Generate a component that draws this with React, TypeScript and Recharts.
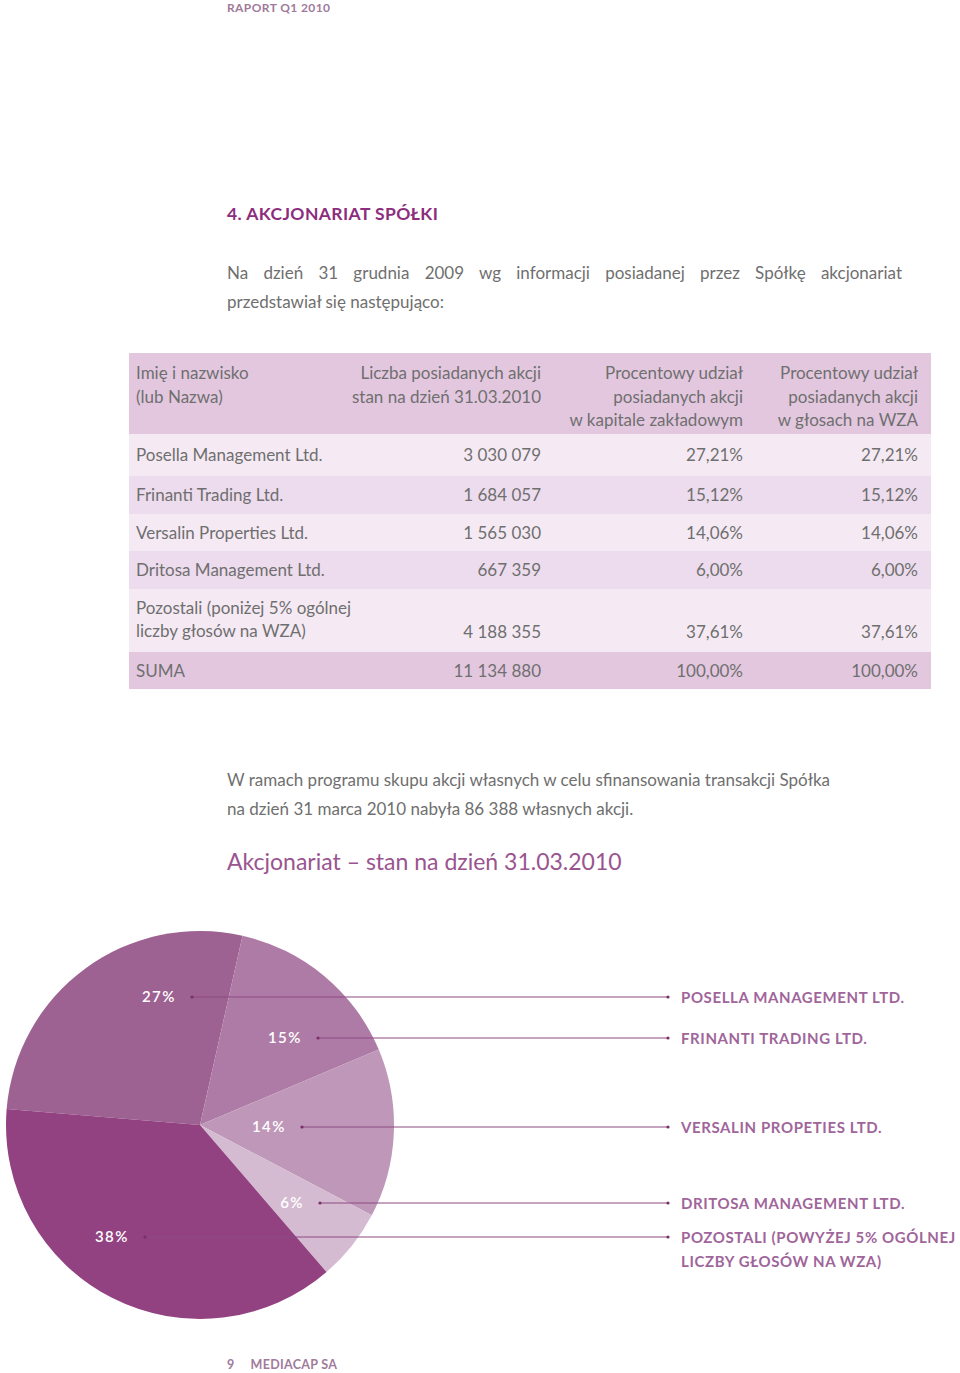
import { PieChart, Pie, Cell } from 'recharts';

// shareholders (table + pie)
const HOLDERS = ['Posella Management Ltd.', 'Frinanti Trading Ltd.', 'Versalin Properties Ltd.', 'Dritosa Management Ltd.', 'Pozostali (poniżej 5% ogólnej|liczby głosów na WZA)'];
const SHARES = [3030079, 1684057, 1565030, 667359, 4188355];
const SHARES_TXT = ['3 030 079', '1 684 057', '1 565 030', '667 359', '4 188 355'];
const CAPITAL_PCT = ['27,21%', '15,12%', '14,06%', '6,00%', '37,61%'];
const VOTES_PCT = ['27,21%', '15,12%', '14,06%', '6,00%', '37,61%'];
const TOTAL = ['SUMA', '11 134 880', '100,00%', '100,00%'];
const PIE_NAMES = ['POSELLA MANAGEMENT LTD.', 'FRINANTI TRADING LTD.', 'VERSALIN PROPETIES LTD.', 'DRITOSA MANAGEMENT LTD.', 'POZOSTALI (POWYŻEJ 5% OGÓLNEJ|LICZBY GŁOSÓW NA WZA)'];
const PIE_COLORS = ['#9d6192', '#ae7ba6', '#be97b9', '#d5bbd1', '#924281'];

// annotation placement relative to pie centre (dot position)
const LABEL_LAYOUT = [
  { dx: -8, dy: -128 },
  { dx: 118, dy: -87 },
  { dx: 102, dy: 2 },
  { dx: 120, dy: 78 },
  { dx: -55, dy: 112 },
];

const CX = 200;
const CY = 225;
const LINE_END = 668;

const GRAY = '#6f6f6f';
const FONT = 'Lato, "Noto Sans", sans-serif';

const pieData = HOLDERS.map((h, i) => ({ name: PIE_NAMES[i], value: SHARES[i] }));

const rowHeights = [42, 38, 37, 38, 63];
const rowBg = ['#f5eaf4', '#eddced', '#f5eaf4', '#eddced', '#f5eaf4'];

function Cells({ cells, multi }: { cells: string[]; multi?: boolean }) {
  const rights = [null, 390, 188, 13];
  return (
    <>
      {cells.map((c, i) => (
        <div
          key={i}
          style={{
            position: 'absolute',
            left: i === 0 ? 7 : undefined,
            right: i === 0 ? undefined : rights[i]!,
            bottom: multi ? 9 : undefined,
            top: multi ? (i === 0 ? 6 : undefined) : 0,
            height: multi ? undefined : '100%',
            display: 'flex',
            alignItems: 'center',
            textAlign: i === 0 ? 'left' : 'right',
            whiteSpace: 'nowrap',
          }}
        >
          <div>
            {c.split('|').map((l, j) => (
              <div key={j}>{l}</div>
            ))}
          </div>
        </div>
      ))}
    </>
  );
}

function renderLabel(props: any) {
  const { index, percent } = props;
  const lay = LABEL_LAYOUT[index];
  const x = CX + lay.dx;
  const y = CY + lay.dy;
  const lines = PIE_NAMES[index].split('|');
  return (
    <g key={index}>
      <text x={x - 16} y={y} dy={5} textAnchor="end" fill="#ffffff" fontSize={15} fontFamily={FONT} fontWeight={600} letterSpacing={1.5}>
        {Math.round(percent * 100)}%
      </text>
      <line x1={x} y1={y} x2={LINE_END} y2={y} stroke="#8d4a82" strokeWidth={1} />
      <circle cx={x} cy={y} r={1.6} fill="#7a2f6c" />
      <circle cx={LINE_END} cy={y} r={1.6} fill="#7a2f6c" />
      {lines.map((l, j) => (
        <text key={j} x={LINE_END + 13} y={y + j * 24} dy={6} fill="#a0659a" fontSize={15} fontFamily={FONT} fontWeight={700} letterSpacing={0.6}>
          {l}
        </text>
      ))}
    </g>
  );
}

export default function App() {
  return (
    <div style={{ position: 'absolute', left: 0, top: 0, width: 960, height: 1373, background: '#fff', fontFamily: FONT, color: GRAY, overflow: 'hidden' }}>
      <div style={{ position: 'absolute', left: 227, top: 0, fontSize: 12, fontWeight: 700, color: '#a07a9b', letterSpacing: 0.4 }}>RAPORT Q1 2010</div>

      <div style={{ position: 'absolute', left: 227, top: 203, fontSize: 17.5, fontWeight: 700, color: '#8c2d7e', letterSpacing: 0.4 }}>4. AKCJONARIAT SPÓŁKI</div>

      <div style={{ position: 'absolute', left: 227, top: 258, width: 675, fontSize: 17, lineHeight: '29px' }}>
        <div style={{ textAlign: 'justify', textAlignLast: 'justify' as any }}>
          Na dzień 31 grudnia 2009 wg informacji posiadanej przez Spółkę akcjonariat
        </div>
        <div>przedstawiał się następująco:</div>
      </div>

      {/* table */}
      <div style={{ position: 'absolute', left: 129, top: 353, width: 802, fontSize: 17, lineHeight: '23.5px' }}>
        <div style={{ position: 'relative', height: 81, background: '#e3c7df' }}>
          <div style={{ position: 'absolute', left: 7, top: 8 }}>Imię i nazwisko<br />(lub Nazwa)</div>
          <div style={{ position: 'absolute', right: 390, top: 8, textAlign: 'right' }}>Liczba posiadanych akcji<br />stan na dzień 31.03.2010</div>
          <div style={{ position: 'absolute', right: 188, top: 8, textAlign: 'right' }}>Procentowy udział<br />posiadanych akcji<br />w kapitale zakładowym</div>
          <div style={{ position: 'absolute', right: 13, top: 8, textAlign: 'right' }}>Procentowy udział<br />posiadanych akcji<br />w głosach na WZA</div>
        </div>
        {HOLDERS.map((h, i) => (
          <div key={i} style={{ position: 'relative', height: rowHeights[i], background: rowBg[i] }}>
            <Cells cells={[h, SHARES_TXT[i], CAPITAL_PCT[i], VOTES_PCT[i]]} multi={h.includes('|')} />
          </div>
        ))}
        <div style={{ position: 'relative', height: 37, background: '#e3c7df' }}>
          <Cells cells={TOTAL} />
        </div>
      </div>

      <div style={{ position: 'absolute', left: 227, top: 765, fontSize: 17, lineHeight: '29px' }}>
        W ramach programu skupu akcji własnych w celu sfinansowania transakcji Spółka
        <br />
        na dzień 31 marca 2010 nabyła 86 388 własnych akcji.
      </div>

      <div style={{ position: 'absolute', left: 227, top: 847, fontSize: 23, color: '#9a5490' }}>Akcjonariat – stan na dzień 31.03.2010</div>

      <div style={{ position: 'absolute', left: 0, top: 900 }}>
        <PieChart width={960} height={460} margin={{ top: 0, right: 0, bottom: 0, left: 0 }}>
          <Pie
            data={pieData}
            dataKey="value"
            nameKey="name"
            cx={CX}
            cy={CY}
            outerRadius={194}
            startAngle={175.3}
            endAngle={-184.7}
            stroke="none"
            label={renderLabel}
            labelLine={false}
            isAnimationActive={false}
          >
            {pieData.map((_, i) => (
              <Cell key={i} fill={PIE_COLORS[i]} />
            ))}
          </Pie>
        </PieChart>
      </div>

      <div style={{ position: 'absolute', left: 227, top: 1357, fontSize: 12.5, fontWeight: 700, color: '#a07a9b', letterSpacing: 0.3 }}>
        9<span style={{ marginLeft: 16 }}>MEDIACAP SA</span>
      </div>
    </div>
  );
}
